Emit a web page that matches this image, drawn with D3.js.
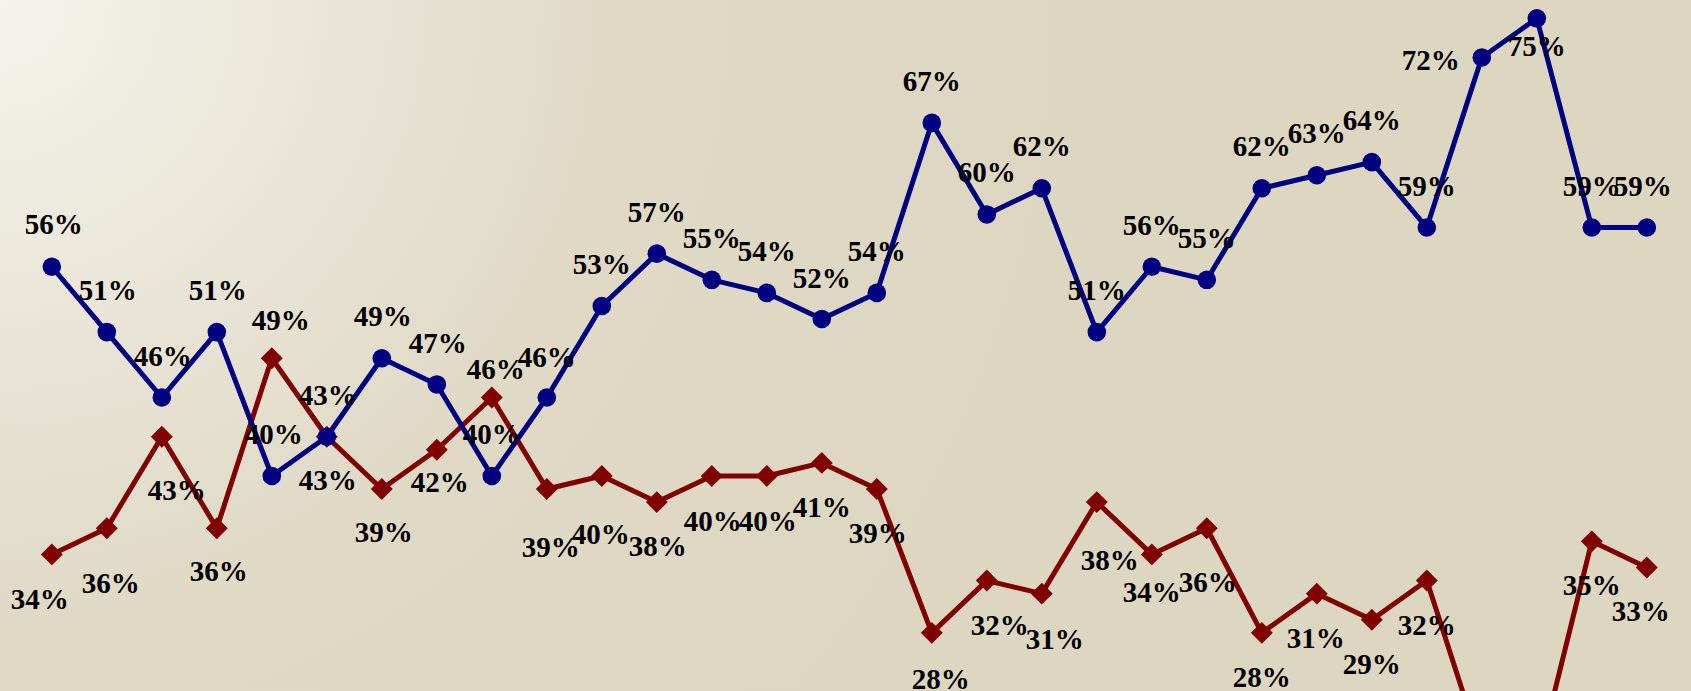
<!DOCTYPE html>
<html>
<head>
<meta charset="utf-8">
<script src="https://cdn.jsdelivr.net/npm/d3@7"></script>
<style>
  html, body { margin: 0; padding: 0; overflow: hidden; background: #DED8C3; }
  svg { display: block; }
</style>
</head>
<body>
<svg id="chart" width="1691" height="691"></svg>
<script>
// ---- data ----
const polls = ["1","2","3","4","5","6","7","8","9","10","11","12","13","14","15",
               "16","17","18","19","20","21","22","23","24","25","26","27","28","29","30"];
const blueValues = [56, 51, 46, 51, 40, 43, 49, 47, 40, 46, 53, 57, 55, 54, 52,
                    54, 67, 60, 62, 51, 56, 55, 62, 63, 64, 59, 72, 75, 59, 59];
const redValues  = [34, 36, 43, 36, 49, 43, 39, 42, 46, 39, 40, 38, 40, 40, 41,
                    39, 28, 32, 31, 38, 34, 36, 28, 31, 29, 32, 19, 18, 35, 33];

// ---- label placement (layout only) ----
const blueLabelDX = [2,1,1,1,2,1,1,1,0,0,0,0,0,0,0,0,0,0,0,0,0,0,0,0,0,0,-51,0,0,-4];
const blueLabelDY = [-43,-42,-42,-42,-42,-42,-42,-41,-42,-41,-42,-42,-42,-42,-41,
                     -42,-42,-42,-42,-42,-42,-42,-42,-42,-42,-42,2,28,-42,-42];
const redLabelDX  = [-12,4,15,2,9,1,2,3,4,4,-1,1,1,1,0,1,9,13,13,13,0,1,0,-1,0,0,0,0,0,-6];
const redLabelDY  = [45,55,53,43,-38,43,43,32,-29,58,58,44,45,45,44,44,46,44,45,58,
                     38,54,44,44,44,44,44,44,44,44];

const W = 1691, H = 691;
const svg = d3.select("#chart");

// background gradient
const defs = svg.append("defs");
const grad = defs.append("radialGradient")
  .attr("id", "bg").attr("gradientUnits", "userSpaceOnUse")
  .attr("cx", 0).attr("cy", 0).attr("r", 1150).attr("fx", 0).attr("fy", 0);
grad.append("stop").attr("offset", 0).attr("stop-color", "#F5F3EC");
grad.append("stop").attr("offset", 0.55).attr("stop-color", "#DFD9C5");
grad.append("stop").attr("offset", 1).attr("stop-color", "#DDD7C2");
svg.append("rect").attr("width", W).attr("height", H).attr("fill", "url(#bg)");

const x = d3.scalePoint().domain(polls).range([51.8, 1646.8]);
const y = d3.scaleLinear().domain([0, 75]).range([999, 18.3]);

const series = [
  { values: redValues,  color: "#800000", shape: "diamond", dx: redLabelDX,  dy: redLabelDY },
  { values: blueValues, color: "#000080", shape: "circle",  dx: blueLabelDX, dy: blueLabelDY }
];

const line = d3.line().x((d, i) => x(polls[i])).y(d => y(d));

series.forEach(s => {
  svg.append("path")
    .datum(s.values)
    .attr("fill", "none")
    .attr("stroke", s.color)
    .attr("stroke-width", 5)
    .attr("stroke-linejoin", "round")
    .attr("d", line);

  const g = svg.append("g");
  if (s.shape === "circle") {
    g.selectAll("circle").data(s.values).join("circle")
      .attr("cx", (d, i) => x(polls[i]))
      .attr("cy", d => y(d))
      .attr("r", 9.3)
      .attr("fill", s.color);
  } else {
    const sym = d3.symbol().type(d3.symbolSquare).size(240);
    g.selectAll("path").data(s.values).join("path")
      .attr("d", sym)
      .attr("transform", (d, i) => `translate(${x(polls[i])},${y(d)}) rotate(45)`)
      .attr("fill", s.color);
  }
});

// labels on top (only those that land inside the picture)
series.forEach(s => {
  const items = s.values.map((v, i) => ({ v, i, lx: x(polls[i]) + s.dx[i], ly: y(v) + s.dy[i] }))
    .filter(d => d.ly - 12 < H);
  svg.append("g").selectAll("text").data(items).join("text")
    .attr("x", d => d.lx)
    .attr("y", d => d.ly + 10)
    .attr("text-anchor", "middle")
    .attr("font-family", "'Liberation Serif', 'Times New Roman', serif")
    .attr("font-weight", "bold")
    .attr("font-size", 29)
    .attr("fill", "#000")
    .text(d => d.v + "%");
});
</script>
</body>
</html>
